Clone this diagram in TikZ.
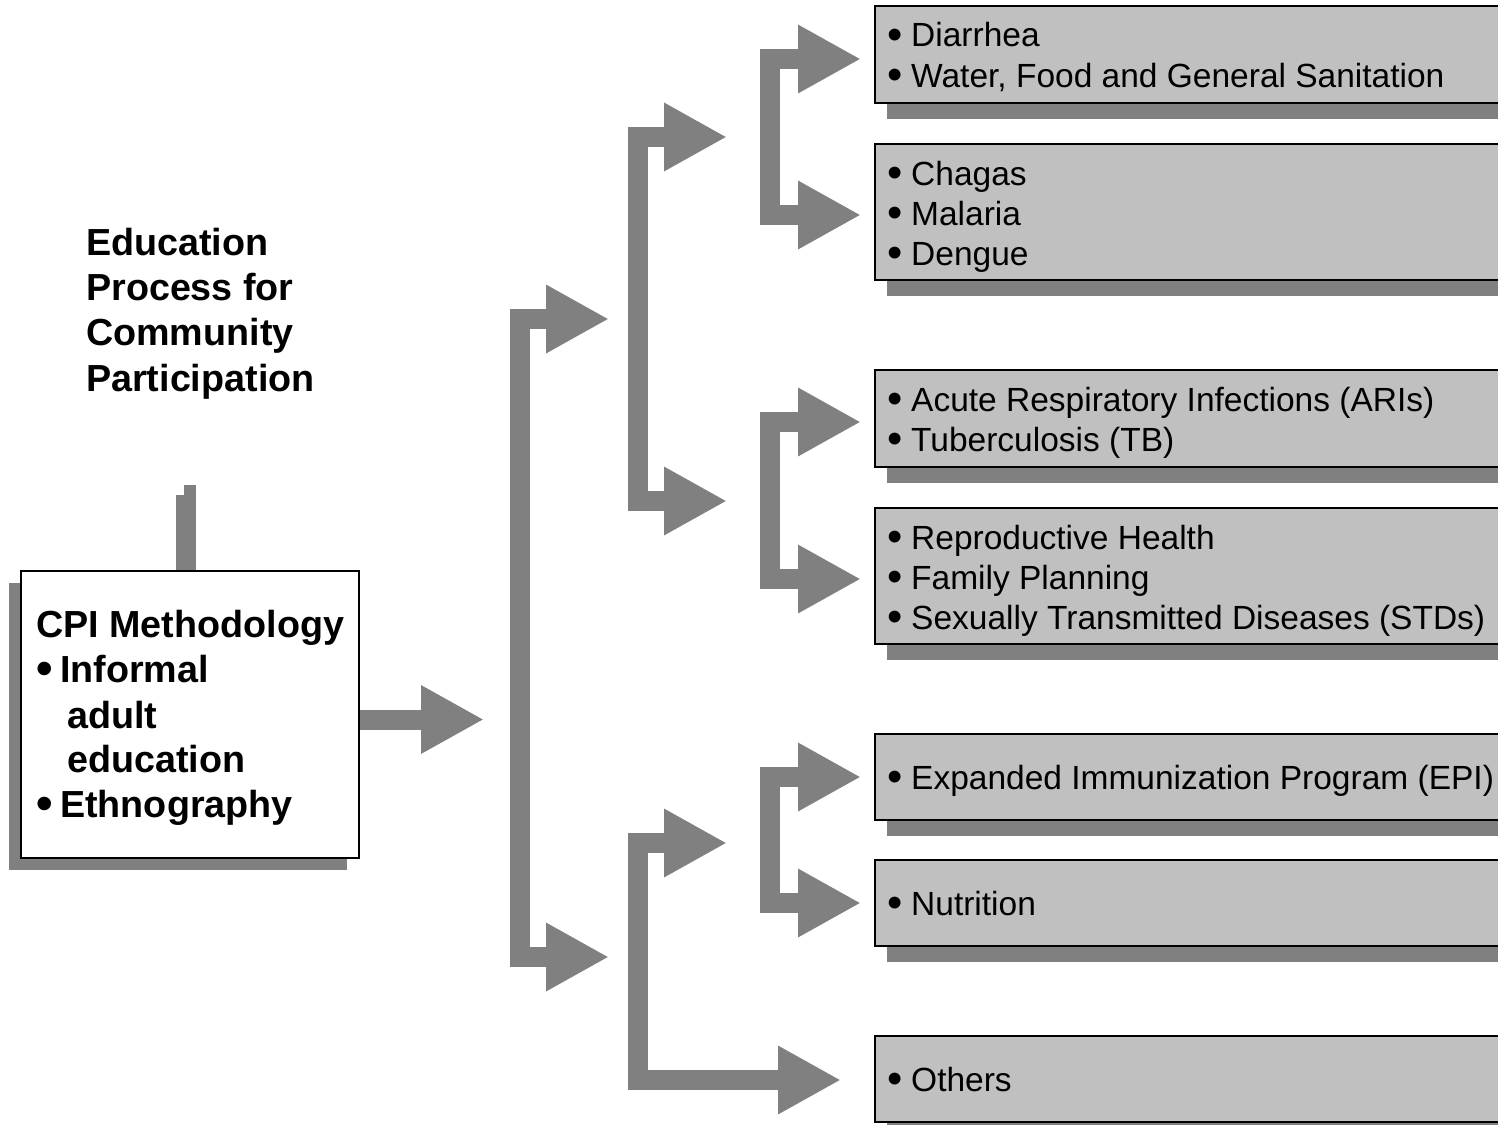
\documentclass[tikz,border=0pt]{standalone}
\usepackage{fontspec}
\setmainfont{Liberation Sans}
\usetikzlibrary{arrows.meta,shadows}
\definecolor{arrowgray}{HTML}{808080}
\definecolor{boxgray}{HTML}{C0C0C0}
\newcommand{\bul}{\makebox[24pt][l]{\raisebox{-2.5pt}{\scalebox{1.3}{•}}}}
\newcommand{\bbul}{\makebox[24pt][l]{\raisebox{-2.5pt}{\scalebox{1.25}{•}}}}
\begin{document}
\begin{tikzpicture}[x=1pt,y=-1pt,
  head/.tip={Triangle[length=63pt,width=64pt]},
  barrow/.style={draw=arrowgray,line width=20pt,line join=miter,{head}-{head}},
  sarrow/.style={draw=arrowgray,line width=20pt,-{head}},
  topic/.style={draw=black,line width=2pt,fill=boxgray,minimum width=650pt,
    anchor=north west,inner sep=0pt,
    drop shadow={shadow xshift=12pt,shadow yshift=-16pt,opacity=1,fill=arrowgray}},
  txt/.style={anchor=base west,inner sep=0pt,font=\fontsize{33.5}{40}\selectfont},
  btxt/.style={anchor=base west,inner sep=0pt,font=\fontsize{37.7}{45}\selectfont\bfseries},
]
\useasboundingbox (0,0) rectangle (1498,1124);
\clip (0,0) rectangle (1498,1124);

% title
\node[btxt] (ti1) at (86,255) {Education};
\node[btxt] (ti2) at (86,300) {Process for};
\node[btxt] (ti3) at (86,345) {Community};
\node[btxt] (ti4) at (86,391) {Participation};

% stub
\fill[arrowgray] (176,495) rectangle (196,571);
\fill[arrowgray] (184,485) rectangle (196,496);

% CPI box
\node[draw=black,line width=2pt,fill=white,minimum width=338pt,minimum height=287pt,
  anchor=north west,inner sep=0pt,
  drop shadow={shadow xshift=-12pt,shadow yshift=-12pt,opacity=1,fill=arrowgray}]
  (cpi) at (20,570) {};
\node[btxt] (cp1) at (36,637) {CPI Methodology};
\node[btxt] (cp2) at (36,682) {\bbul Informal};
\node[btxt] (cp3) at (67,728) {adult};
\node[btxt] (cp4) at (67,772) {education};
\node[btxt] (cp5) at (36,817) {\bbul Ethnography};

% topic boxes
\node[topic,minimum height=97pt]  (b1) at (874,5) {};
\node[topic,minimum height=136pt] (b2) at (874,143) {};
\node[topic,minimum height=97pt]  (b3) at (874,369) {};
\node[topic,minimum height=136pt] (b4) at (874,507) {};
\node[topic,minimum height=86pt]  (b5) at (874,733) {};
\node[topic,minimum height=86pt]  (b6) at (874,859) {};
\node[topic,minimum height=86pt]  (b7) at (874,1035) {};

\node[txt] (l1a) at (887,47) {\bul Diarrhea};
\node[txt] (l1b) at (887,87) {\bul Water, Food and General Sanitation};
\node[txt] (l2a) at (887,185) {\bul Chagas};
\node[txt] (l2b) at (887,225) {\bul Malaria};
\node[txt] (l2c) at (887,265) {\bul Dengue};
\node[txt] (l3a) at (887,411) {\bul Acute Respiratory Infections (ARIs)};
\node[txt] (l3b) at (887,451) {\bul Tuberculosis (TB)};
\node[txt] (l4a) at (887,549) {\bul Reproductive Health};
\node[txt] (l4b) at (887,589) {\bul Family Planning};
\node[txt] (l4c) at (887,629) {\bul Sexually Transmitted Diseases (STDs)};
\node[txt] (l5a) at (887,789) {\bul Expanded Immunization Program (EPI)};
\node[txt] (l6a) at (887,915) {\bul Nutrition};
\node[txt] (l7a) at (887,1091) {\bul Others};

% connector coordinates
\coordinate (c0) at (484,719.5);
\coordinate (v1) at (520,0);
\coordinate (v2) at (638,0);
\coordinate (v3) at (770,0);
\coordinate (a1) at (609,319);
\coordinate (a2) at (609,957);
\coordinate (p1) at (727,137);
\coordinate (p2) at (727,501);
\coordinate (q1) at (727,843);
\coordinate (q2) at (841,1080);
\coordinate (d1) at (861,59);
\coordinate (d2) at (861,215);
\coordinate (e1) at (861,422);
\coordinate (e2) at (861,579);
\coordinate (f1) at (861,777);
\coordinate (f2) at (861,903);

% connectors
\draw[sarrow] (cpi.east |- c0) -- (c0);
\draw[barrow] (a1) -- (a1 -| v1) -- (a2 -| v1) -- (a2);
\draw[barrow] (p1) -- (p1 -| v2) -- (p2 -| v2) -- (p2);
\draw[barrow] (q1) -- (q1 -| v2) -- (q2 -| v2) -- (q2);
\draw[barrow] (d1) -- (d1 -| v3) -- (d2 -| v3) -- (d2);
\draw[barrow] (e1) -- (e1 -| v3) -- (e2 -| v3) -- (e2);
\draw[barrow] (f1) -- (f1 -| v3) -- (f2 -| v3) -- (f2);
\end{tikzpicture}
\end{document}
